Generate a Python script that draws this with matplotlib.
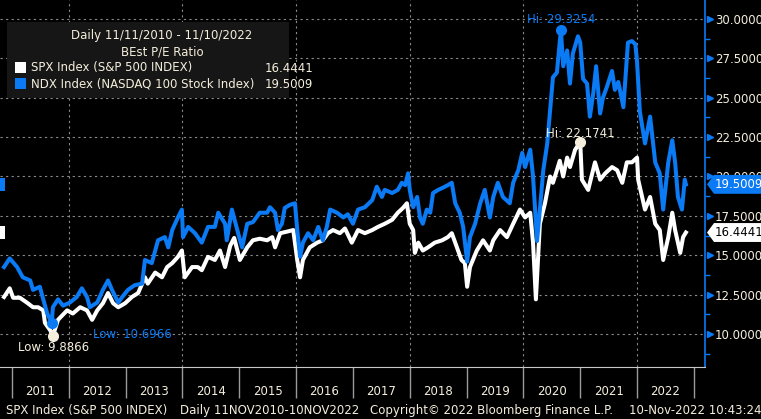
import matplotlib
matplotlib.use("Agg")
import numpy as np
import matplotlib.pyplot as plt
import matplotlib.transforms as mtransforms
from matplotlib.patches import Polygon, Rectangle
from matplotlib.ticker import MultipleLocator, FormatStrFormatter

# BEst P/E ratio (time in decimal years)
ndx_t = [2010.86, 2010.96, 2011.09, 2011.19, 2011.32, 2011.37, 2011.49, 2011.55, 2011.62, 2011.70,
         2011.72, 2011.81, 2011.90, 2012.02, 2012.14, 2012.23, 2012.32, 2012.37, 2012.50, 2012.60,
         2012.69, 2012.76, 2012.87, 2012.94, 2013.04, 2013.16, 2013.29, 2013.34, 2013.46, 2013.52,
         2013.57, 2013.69, 2013.75, 2013.82, 2013.92, 2013.99, 2014.01, 2014.10, 2014.22, 2014.34,
         2014.45, 2014.57, 2014.63, 2014.75, 2014.78, 2014.87, 2014.98, 2015.05, 2015.14, 2015.24,
         2015.36, 2015.49, 2015.54, 2015.63, 2015.68, 2015.75, 2015.80, 2015.89, 2015.98, 2016.02,
         2016.07, 2016.12, 2016.21, 2016.30, 2016.39, 2016.47, 2016.54, 2016.60, 2016.72, 2016.83,
         2016.91, 2017.00, 2017.09, 2017.21, 2017.34, 2017.42, 2017.51, 2017.56, 2017.69, 2017.79,
         2017.86, 2017.92, 2017.97, 2018.00, 2018.06, 2018.13, 2018.18, 2018.23, 2018.30, 2018.36,
         2018.41, 2018.50, 2018.59, 2018.67, 2018.74, 2018.80, 2018.88, 2018.94, 2019.01, 2019.06,
         2019.15, 2019.24, 2019.32, 2019.41, 2019.47, 2019.55, 2019.64, 2019.76, 2019.82, 2019.91,
         2019.98, 2020.03, 2020.12, 2020.17, 2020.24, 2020.29, 2020.35, 2020.42, 2020.47, 2020.52,
         2020.59, 2020.66, 2020.70, 2020.77, 2020.82, 2020.87, 2020.96, 2021.00, 2021.05, 2021.12,
         2021.17, 2021.23, 2021.28, 2021.35, 2021.40, 2021.47, 2021.56, 2021.61, 2021.67, 2021.76,
         2021.84, 2021.91, 2021.97, 2022.00, 2022.05, 2022.14, 2022.23, 2022.32, 2022.40, 2022.46,
         2022.55, 2022.62, 2022.67, 2022.72, 2022.79, 2022.84, 2022.86]
ndx_v = [14.25, 14.8, 14.25, 13.6, 13.4, 12.8, 13.0, 12.2, 11.3, 10.6966,
         11.7, 12.2, 11.8, 12.0, 12.35, 12.9, 12.35, 11.7, 12.0, 12.8,
         13.4, 12.8, 12.0, 12.35, 12.8, 13.1, 13.2, 14.7, 14.5, 15.3,
         15.95, 16.15, 15.5, 16.6, 17.4, 17.9, 16.15, 16.8, 16.4, 15.8,
         16.8, 16.8, 17.7, 17.0, 15.95, 17.9, 16.4, 15.5, 17.0, 17.1,
         17.7, 17.7, 18.05, 17.7, 16.6, 17.0, 18.0, 18.2, 18.3, 16.6,
         14.9, 15.8, 16.4, 15.95, 16.8, 15.95, 16.8, 17.9, 17.7, 17.4,
         17.6, 17.0, 17.9, 18.05, 18.5, 19.35, 18.7, 19.15, 18.95, 19.15,
         19.6, 19.45, 20.2, 19.15, 18.05, 18.7, 17.4, 17.0, 17.9, 17.7,
         18.95, 19.15, 19.3, 19.45, 19.6, 18.3, 17.7, 16.8, 14.6, 16.15,
         17.0, 18.3, 19.15, 17.4, 18.7, 19.6, 18.7, 18.3, 19.6, 20.4,
         21.5, 20.6, 21.7, 20.0, 15.9, 17.9, 20.4, 22.1, 24.2, 26.3,
         26.6, 29.3254, 27.0, 28.0, 25.9, 27.8, 28.9, 28.5, 26.2, 25.9,
         23.8, 25.3, 27.0, 24.0, 25.0, 25.7, 26.7, 25.5, 26.0, 24.4,
         28.5, 28.6, 28.4, 27.3, 24.1, 22.1, 23.8, 20.9, 20.2, 17.9,
         20.9, 22.3, 20.9, 18.7, 17.9, 19.8, 19.5009]

spx_t = [2010.86, 2010.96, 2011.02, 2011.14, 2011.26, 2011.37, 2011.46, 2011.55, 2011.58, 2011.67,
         2011.72, 2011.81, 2011.97, 2012.07, 2012.20, 2012.32, 2012.41, 2012.50, 2012.60, 2012.69,
         2012.78, 2012.87, 2012.99, 2013.11, 2013.22, 2013.34, 2013.39, 2013.52, 2013.64, 2013.73,
         2013.82, 2013.92, 2013.99, 2014.04, 2014.17, 2014.27, 2014.34, 2014.45, 2014.57, 2014.66,
         2014.75, 2014.84, 2014.91, 2015.01, 2015.14, 2015.24, 2015.36, 2015.49, 2015.58, 2015.63,
         2015.72, 2015.84, 2015.95, 2016.02, 2016.07, 2016.12, 2016.24, 2016.37, 2016.47, 2016.56,
         2016.65, 2016.77, 2016.86, 2016.98, 2017.09, 2017.21, 2017.34, 2017.44, 2017.56, 2017.69,
         2017.79, 2017.88, 2017.95, 2018.00, 2018.06, 2018.09, 2018.15, 2018.23, 2018.32, 2018.44,
         2018.57, 2018.67, 2018.74, 2018.83, 2018.91, 2018.97, 2019.01, 2019.06, 2019.18, 2019.29,
         2019.41, 2019.47, 2019.59, 2019.71, 2019.82, 2019.94, 2020.03, 2020.12, 2020.17, 2020.22,
         2020.29, 2020.38, 2020.47, 2020.52, 2020.59, 2020.64, 2020.70, 2020.77, 2020.82, 2020.91,
         2021.00, 2021.03, 2021.14, 2021.26, 2021.35, 2021.44, 2021.56, 2021.65, 2021.74, 2021.82,
         2021.91, 2022.00, 2022.02, 2022.09, 2022.14, 2022.23, 2022.32, 2022.40, 2022.46, 2022.55,
         2022.62, 2022.67, 2022.76, 2022.81, 2022.86]
spx_v = [12.35, 12.9, 12.3, 12.3, 12.0, 11.7, 11.7, 11.5, 10.7, 10.25,
         9.8866, 10.9, 11.5, 11.3, 11.7, 11.5, 10.9, 11.5, 11.95, 12.6,
         11.95, 11.7, 11.95, 12.35, 12.6, 13.6, 13.2, 13.9, 13.6, 14.25,
         14.5, 14.9, 15.3, 13.6, 14.25, 14.25, 14.05, 14.9, 14.7, 15.3,
         14.25, 15.6, 16.1, 14.7, 15.5, 15.95, 16.05, 15.95, 16.15, 15.5,
         16.4, 16.5, 16.6, 14.7, 13.6, 14.7, 15.5, 15.8, 15.95, 16.4,
         16.6, 16.4, 16.7, 15.8, 16.6, 16.4, 16.6, 16.8, 17.0, 17.25,
         17.7, 18.0, 18.3, 17.0, 16.6, 15.15, 15.8, 15.3, 15.5, 15.8,
         15.95, 16.15, 16.4, 15.5, 14.7, 14.5, 13.0, 14.25, 15.3, 15.95,
         15.3, 15.95, 16.6, 16.15, 17.0, 17.9, 17.4, 17.7, 15.8, 12.2,
         17.0, 18.3, 20.0, 19.6, 20.4, 21.0, 20.0, 21.2, 20.6, 21.7,
         22.1741, 19.8, 19.15, 20.9, 19.8, 20.2, 20.6, 20.4, 19.6, 20.9,
         20.9, 21.2, 19.8, 18.7, 17.9, 18.7, 17.0, 16.6, 14.7, 16.15,
         17.7, 16.6, 15.15, 16.15, 16.4441]

years = list(range(2011, 2023))
spx_name = "SPX Index (S&P 500 INDEX)"
ndx_name = "NDX Index (NASDAQ 100 Stock Index)"

BLUE = "#0a7af5"
CREAM = "#f5eedc"
GRID = "#8a8a8a"
W, H = 761, 419
FS = 8.5

fig = plt.figure(figsize=(W / 100, H / 100), dpi=100, facecolor="black")
ax = fig.add_axes([0, 1 - 367 / H, 705 / W, 367 / H], facecolor="black")

ax.plot(spx_t, spx_v, color="white", lw=2.9, zorder=3)
ax.plot(ndx_t, ndx_v, color=BLUE, lw=2.9, zorder=3)

ax.set_xlim(2010.789, 2023.196)
ax.set_ylim(7.905, 31.206)

for s in ("top", "left"):
    ax.spines[s].set_visible(False)
ax.spines["right"].set_color(BLUE)
ax.spines["right"].set_linewidth(1.2)
ax.spines["bottom"].set_color("#c8c8c8")

# right price axis
ax.yaxis.tick_right()
ax.yaxis.set_major_locator(MultipleLocator(2.5))
ax.yaxis.set_minor_locator(MultipleLocator(1.25))
ax.yaxis.set_major_formatter(FormatStrFormatter("%.4f"))
ax.tick_params(axis="y", which="major", length=0, pad=7, labelsize=FS, labelcolor=CREAM)
ax.tick_params(axis="y", which="minor", length=3.6, width=1, color=BLUE)
yt = [t for t in ax.get_yticks() if 7.905 < t < 31.206]
tri_tf = mtransforms.blended_transform_factory(ax.transAxes, ax.transData)
ax.plot([1 + 5 / 705] * len(yt), yt, ls="none", marker=">", ms=5, color=BLUE,
        transform=tri_tf, clip_on=False)

# grid
ax.grid(axis="y", which="major", color=GRID, ls=(0, (2, 3)), lw=0.8)
for yr in range(2012, 2023, 2):
    ax.axvline(yr, color=GRID, ls=(0, (2, 3)), lw=0.8, zorder=1)

# year separators and labels
ax.set_xticks(range(2011, 2024))
ax.set_xticklabels([])
ax.set_xticks([y + 0.5 for y in years], minor=True)
ax.set_xticklabels([str(y) for y in years], minor=True)
ax.tick_params(axis="x", which="major", length=22, width=1, color="#9a9a9a")
ax.tick_params(axis="x", which="minor", length=0, pad=13, labelsize=FS, labelcolor=CREAM)

# hi / low markers
def mark(t, v, idx, col, label, dx, dy, ha):
    ax.plot(t[idx], v[idx], "o", ms=7, color=col, zorder=5)
    ax.annotate(f"{label}: {v[idx]:.4f}", (t[idx], v[idx]), xytext=(dx, dy),
                textcoords="offset pixels", ha=ha, va="center", color=col,
                fontsize=FS, zorder=6)

mark(ndx_t, ndx_v, int(np.argmax(ndx_v)), BLUE, "Hi", 0, 10, "center")
mark(spx_t, spx_v, int(np.argmax(spx_v)), CREAM, "Hi", 0, 9, "center")
mark(spx_t, spx_v, int(np.argmin(spx_v)), CREAM, "Low", 1, -12, "center")
mark(ndx_t, ndx_v, int(np.argmin(ndx_v)), BLUE, "Low", 41, -11, "left")

# last value tags on both sides
tag_tf = mtransforms.blended_transform_factory(fig.transFigure, ax.transData)

def value_tag(v, face, txt):
    verts = [(707 / W, v), (714 / W, v + 0.6), (1.0, v + 0.6), (1.0, v - 0.6), (714 / W, v - 0.6)]
    ax.add_patch(Polygon(verts, closed=True, transform=tag_tf, facecolor=face,
                         edgecolor="none", clip_on=False, zorder=7))
    ax.text(715 / W, v, f"{v:.4f}", transform=tag_tf, color=txt, fontsize=FS,
            va="center", ha="left", zorder=8, clip_on=False)
    ax.add_patch(Rectangle((0, v - 0.42), 5 / W, 0.84, transform=tag_tf, facecolor=face,
                           edgecolor="none", clip_on=False, zorder=7))

value_tag(ndx_v[-1], BLUE, "white")
value_tag(spx_v[-1], "white", "black")

# legend panel
def fx(x):
    return x / W

def fy(y):
    return 1 - y / H

fig.patches.append(Rectangle((fx(7), fy(98)), fx(282), 76 / H, transform=fig.transFigure,
                             facecolor="#161616", edgecolor="none", zorder=5))
fig.text(fx(162), fy(36), "Daily 11/11/2010 - 11/10/2022", color=CREAM, fontsize=FS,
         ha="center", va="center", zorder=6)
fig.text(fx(162), fy(52), "BEst P/E Ratio", color=CREAM, fontsize=FS,
         ha="center", va="center", zorder=6)
for yy, col, name, val in [(68, "white", spx_name, spx_v[-1]), (84, BLUE, ndx_name, ndx_v[-1])]:
    fig.patches.append(Rectangle((fx(15), fy(yy + 5)), fx(11), 11 / H, transform=fig.transFigure,
                                 facecolor=col, edgecolor="none", zorder=6))
    fig.text(fx(31), fy(yy), name, color=CREAM, fontsize=FS, va="center", zorder=6)
    fig.text(fx(265), fy(yy), f"{val:.4f}", color=CREAM, fontsize=FS, va="center", zorder=6)

# footer
fy_foot = fy(410)
fig.text(fx(6), fy_foot, spx_name, color=CREAM, fontsize=FS, va="center")
fig.text(fx(180), fy_foot, "Daily 11NOV2010-10NOV2022", color=CREAM, fontsize=FS, va="center")
fig.text(fx(370), fy_foot, "Copyright\u00a9 2022 Bloomberg Finance L.P.", color=CREAM,
         fontsize=FS, va="center")
fig.text(fx(629), fy_foot, "10-Nov-2022 10:43:24", color=CREAM, fontsize=FS, va="center")

fig.savefig("out.png", dpi=100, facecolor="black")
